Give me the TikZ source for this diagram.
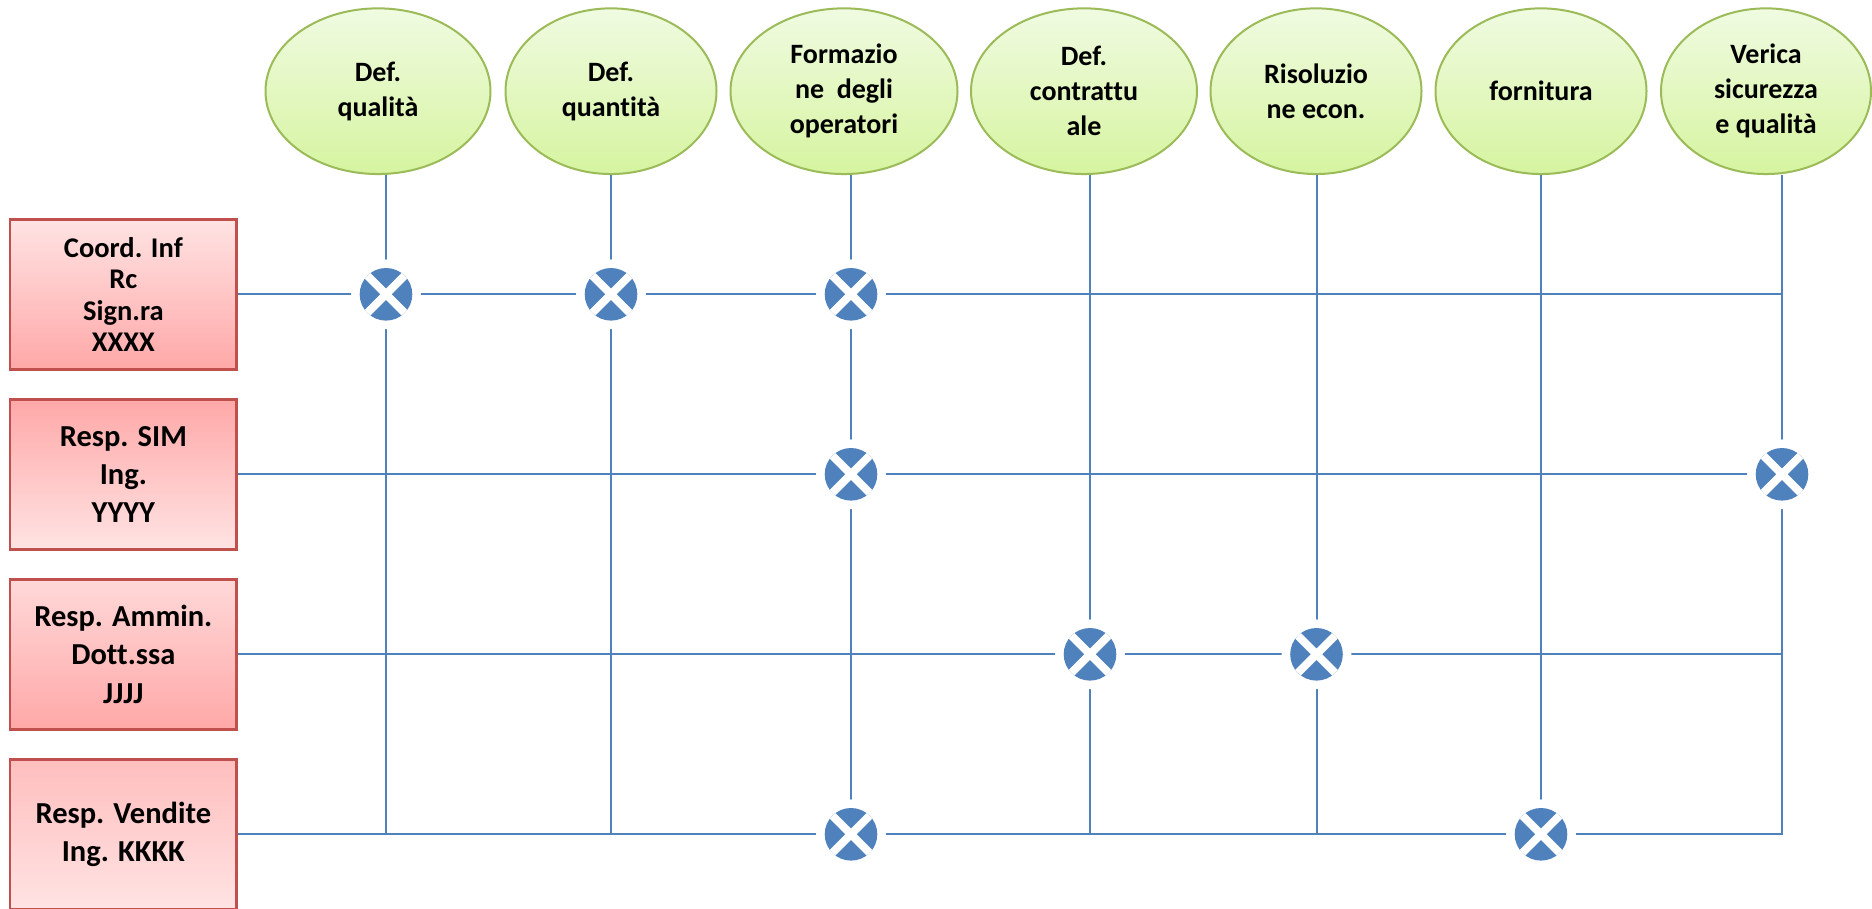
\documentclass[tikz,border=0pt]{standalone}
\usepackage{fontspec}
\setmainfont[Ligatures={NoCommon}]{Carlito}
\usetikzlibrary{shapes.geometric,calc}
\definecolor{lineblue}{HTML}{4F81BD}
\definecolor{ellborder}{HTML}{9BBB59}
\definecolor{elltop}{HTML}{F0FBE1}
\definecolor{ellbot}{HTML}{D6F4A0}
\definecolor{boxborder}{HTML}{C0504D}
\definecolor{pinkA}{HTML}{FFE3E3}
\definecolor{pinkB}{HTML}{FFA8A8}
\definecolor{pinkC}{HTML}{FFD8D8}
\definecolor{pinkD}{HTML}{FFBEBE}
\begin{document}
\begin{tikzpicture}[x=1pt,y=-1pt,
  conn/.style={draw=lineblue, line width=2pt},
  actbox/.style={rectangle, draw=boxborder, line width=2.5pt, minimum width=226.7pt, minimum height=150pt, inner sep=0pt, align=center, font=\bfseries\fontsize{30.5}{38.3}\selectfont},
  task/.style={ellipse, draw=ellborder, line width=2pt, top color=elltop, bottom color=ellbot, minimum height=165.7pt, inner sep=0pt, align=center, font=\bfseries\fontsize{28}{35}\selectfont},
  xnode/.style={circle, fill=lineblue, minimum size=52.6pt, inner sep=0pt, preaction={draw=white, line width=17pt},
    path picture={\draw[white, line width=8pt] (path picture bounding box.north west) -- (path picture bounding box.south east) (path picture bounding box.north east) -- (path picture bounding box.south west);}},
]
\useasboundingbox (0,0) rectangle (1872,908);

% column positions
\coordinate (k1) at (386,0);
\coordinate (k2) at (611,0);
\coordinate (k3) at (851,0);
\coordinate (k4) at (1090,0);
\coordinate (k5) at (1316.5,0);
\coordinate (k6) at (1541,0);
\coordinate (k7) at (1782,0);

% task ellipses
\node[task, minimum width=225pt] (e1) at (378,91.2) {Def.\\qualità};
\node[task, minimum width=211pt] (e2) at (611,91.2) {Def.\\quantità};
\node[task, minimum width=227pt] (e3) at (844,91.2) {Formazio\\ne\ \ degli\\operatori};
\node[task, minimum width=226pt] (e4) at (1084,91.2) {Def.\\contrattu\\ale};
\node[task, minimum width=211pt] (e5) at (1316,91.2) {Risoluzio\\ne econ.};
\node[task, minimum width=211pt] (e6) at (1541,91.2) {fornitura};
\node[task, minimum width=210pt] (e7) at (1766,91.2) {Verica\\sicurezza\\e qualità};

% role boxes
\node[actbox, top color=pinkA, bottom color=pinkB, font=\bfseries\fontsize{28.5}{31.4}\selectfont] (b1) at (123.35,294.3) {Coord. Inf\\Rc\\Sign.ra\\XXXX};
\node[actbox, top color=pinkB, bottom color=pinkA] (b2) at (123.35,474.3) {Resp. SIM\\Ing.\\YYYY};
\node[actbox, top color=pinkC, bottom color=pinkB] (b3) at (123.35,654.3) {Resp. Ammin.\\Dott.ssa\\JJJJ};
\node[actbox, top color=pinkD, bottom color=pinkA] (b4) at (123.35,834.3) {Resp. Vendite\\Ing. KKKK};

% junction marker positions
\coordinate (c11) at (k1 |- b1.east);
\coordinate (c12) at (k2 |- b1.east);
\coordinate (c13) at (k3 |- b1.east);
\coordinate (c23) at (k3 |- b2.east);
\coordinate (c27) at (k7 |- b2.east);
\coordinate (c34) at (k4 |- b3.east);
\coordinate (c35) at (k5 |- b3.east);
\coordinate (c43) at (k3 |- b4.east);
\coordinate (c46) at (k6 |- b4.east);

% horizontal connectors
\draw[conn] (b1.east) -- (k7 |- b1.east);
\draw[conn] (b2.east) -- (c27);
\draw[conn] (b3.east) -- (k7 |- b3.east);
\draw[conn] (b4.east) -- (k7 |- b4.east) -- (k7 |- e7.south);

% vertical connectors
\draw[conn] (k1 |- e1.south) -- (k1 |- b4.east);
\draw[conn] (k2 |- e2.south) -- (k2 |- b4.east);
\draw[conn] (k3 |- e3.south) -- (c43);
\draw[conn] (k4 |- e4.south) -- (k4 |- b4.east);
\draw[conn] (k5 |- e5.south) -- (k5 |- b4.east);
\draw[conn] (k6 |- e6.south) -- (c46);

% cross markers
\node[xnode] (x11) at (c11) {};
\node[xnode] (x12) at (c12) {};
\node[xnode] (x13) at (c13) {};
\node[xnode] (x23) at (c23) {};
\node[xnode] (x27) at (c27) {};
\node[xnode] (x34) at (c34) {};
\node[xnode] (x35) at (c35) {};
\node[xnode] (x43) at (c43) {};
\node[xnode] (x46) at (c46) {};
\end{tikzpicture}
\end{document}
